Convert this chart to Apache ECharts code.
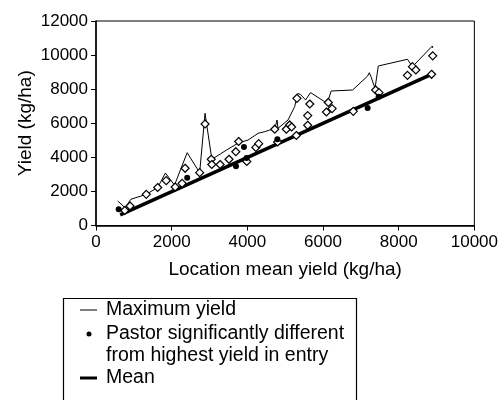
<!DOCTYPE html>
<html><head><meta charset="utf-8">
<script src="https://cdn.jsdelivr.net/npm/echarts@6/dist/echarts.min.js"></script>
<style>html,body{margin:0;padding:0;background:#fff}#c{width:501px;height:400px}</style>
</head><body><div id="c"></div>
<script>
var FONT = "'Liberation Sans', Arial, Helvetica, sans-serif";
var xTicks = [0, 2000, 4000, 6000, 8000, 10000];
var yTicks = [0, 2000, 4000, 6000, 8000, 10000, 12000];
var seriesNames = ["Maximum yield", "Pastor significantly different\nfrom highest yield in entry", "Mean"];
var maxYield = [[574,1440],[770,1040],[920,1537],[1329,1830],[1630,2230],[1835,3080],[2075,2370],[2410,4272],[2740,3099],[2882,6584],[3062,3880],[3450,4430],[3760,4840],[4021,5018],[4285,5411],[4461,5505],[4592,5604],[4724,5650],[4785,6191],[4811,5704],[5075,6191],[5250,6972],[5330,7740],[5400,7700],[5540,7365],[5670,7800],[6110,7170],[6216,7893],[6784,7952],[7179,8773],[7224,8967],[7268,8732],[7374,8051],[7461,9360],[8232,9753],[8364,9319],[8890,10534],[8900,10420]];
var entries = [[760,880],[900,1144],[1329,1830],[1630,2230],[1855,2629],[2092,2260],[2275,2476],[2355,3357],[2740,3099],[2882,5957],[3045,3885],[3060,3580],[3280,3580],[3515,3885],[3695,4330],[3770,4930],[3985,3760],[4225,4580],[4300,4800],[4724,5650],[4800,4900],[5031,5650],[5118,5900],[5170,5780],[5295,5280],[5311,7463],[5595,6450],[5595,5880],[5650,7130],[6090,6660],[6140,7220],[6240,6860],[6800,6700],[7390,7952],[7480,7793],[8232,8812],[8364,9319],[8453,9126],[8900,9955],[8870,8873]];
var pastor = [[600,960],[2410,2805],[3700,3470],[3910,4600],[3980,3960],[4794,5059],[7179,6900],[7470,7560]];
var meanLine = [[640,620],[8880,8880]];

var chart = echarts.init(document.getElementById('c'), null, {renderer:'canvas'});
function axisCommon() {
  return {
    axisLine:{show:true,lineStyle:{color:'#000',width:1.5}},
    axisTick:{show:true,inside:false,length:5,lineStyle:{color:'#000',width:1}},
    splitLine:{show:false},
    axisLabel:{color:'#000',fontFamily:FONT,fontSize:17,margin:8,formatter:function(v){return String(v);}},
    nameTextStyle:{color:'#000',fontFamily:FONT,fontSize:19},
    nameMoveOverlap:false
  };
}
chart.setOption({
  animation:false,
  backgroundColor:'#fff',
  textStyle:{fontFamily:FONT},
  grid:{left:96,right:25,top:21,bottom:174.5,show:true,borderColor:'#000',borderWidth:1,backgroundColor:'transparent'},
  xAxis:Object.assign({type:'value',min:xTicks[0],max:xTicks[xTicks.length-1],interval:xTicks[1]-xTicks[0],
    name:'Location mean yield (kg/ha)',nameLocation:'middle',nameGap:35},axisCommon()),
  yAxis:Object.assign({type:'value',min:yTicks[0],max:yTicks[yTicks.length-1],interval:yTicks[1]-yTicks[0],
    name:'Yield (kg/ha)',nameLocation:'middle',nameGap:61},axisCommon()),
  series:[
    {name:seriesNames[2],type:'line',data:meanLine,symbol:'none',lineStyle:{color:'#000',width:3.5},z:2},
    {name:seriesNames[0],type:'line',data:maxYield,symbol:'none',lineStyle:{color:'#000',width:1},z:3},
    {name:'Entries',type:'scatter',data:entries,symbol:'diamond',symbolSize:[8,8],itemStyle:{color:'#fff',borderColor:'#000',borderWidth:1.2,opacity:1},z:4},
    {name:seriesNames[1],type:'scatter',data:pastor,symbol:'circle',symbolSize:6,itemStyle:{color:'#000',opacity:1},z:5}
  ],
  graphic:[
    {type:'rect',shape:{x:63.5,y:298.5,width:293,height:130},style:{fill:'#fff',stroke:'#000',lineWidth:1.2},z:10},
    {type:'line',shape:{x1:80,y1:310,x2:97,y2:310},style:{stroke:'#000',lineWidth:1},z:11},
    {type:'text',x:106,y:310,style:{text:seriesNames[0],fontFamily:FONT,fontSize:19.5,fill:'#000',verticalAlign:'middle'},z:11},
    {type:'circle',shape:{cx:89,cy:334,r:2.5},style:{fill:'#000'},z:11},
    {type:'text',x:106,y:322,style:{text:seriesNames[1],fontFamily:FONT,fontSize:19.5,lineHeight:22.5,fill:'#000',verticalAlign:'top'},z:11},
    {type:'line',shape:{x1:80,y1:378,x2:97,y2:378},style:{stroke:'#000',lineWidth:3},z:11},
    {type:'text',x:106,y:378,style:{text:seriesNames[2],fontFamily:FONT,fontSize:19.5,fill:'#000',verticalAlign:'middle'},z:11}
  ]
});
</script></body></html>
